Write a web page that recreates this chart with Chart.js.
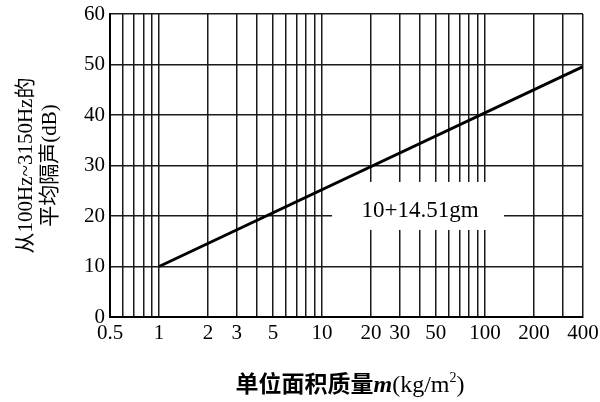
<!DOCTYPE html>
<html><head><meta charset="utf-8">
<script src="https://cdn.jsdelivr.net/npm/chart.js@4"></script>
<style>html,body{margin:0;padding:0;background:#fff}#wrap{width:600px;height:402px}</style>
</head><body><div id="wrap"><canvas id="c" width="600" height="402"></canvas></div>
<script>
// Data
const lineMass = [1, 400];           // kg/m2
const lineLoss = [10, 49.6];         // dB
const xLabelTicks = [0.5, 1, 2, 3, 5, 10, 20, 30, 50, 100, 200, 400];
const xGridTicks = [0.5, 0.6, 0.7, 0.8, 0.9, 1, 2, 3, 4, 5, 6, 7, 8, 9, 10, 20, 30, 40, 50, 60, 70, 80, 90, 100, 200, 300, 400];
const yLabelTicks = [0, 10, 20, 30, 40, 50, 60];
const formulaText = '10+14.51gm';
const yTitleLines = ['从100Hz~3150Hz的', '平均隔声(dB)'];
const xTitleCn = '单位面积质量';
const xTitleVar = 'm';
const xTitleUnit = '(kg/m';

const serif = '"Liberation Serif","Noto Sans CJK SC",serif';

const deco = {
  id: 'deco',
  beforeDatasetsDraw(chart) {
    const {ctx, scales: {x, y}} = chart;
    const cx = x.getPixelForValue(40), cy = y.getPixelForValue(21);
    ctx.save();
    ctx.fillStyle = '#fff';
    ctx.fillRect(cx - 88, cy - 29, 172, 48);
    ctx.fillStyle = '#000';
    ctx.font = '23px ' + serif;
    ctx.textAlign = 'center';
    ctx.textBaseline = 'middle';
    ctx.fillText(formulaText, cx, cy);
    ctx.restore();
  },
  afterDraw(chart) {
    const {ctx, chartArea} = chart;
    ctx.save();
    ctx.fillStyle = '#000';
    const midY = (chartArea.top + chartArea.bottom) / 2;
    [[26, yTitleLines[0]], [50, yTitleLines[1]]].forEach(([px, t]) => {
      ctx.save();
      ctx.translate(px, midY);
      ctx.rotate(-Math.PI / 2);
      ctx.font = '21px ' + serif;
      ctx.textAlign = 'center';
      ctx.textBaseline = 'middle';
      ctx.fillText(t, 0, 0);
      ctx.restore();
    });
    const fCn = 'bold 23px ' + serif, fVar = 'italic bold 24px ' + serif, fUnit = '24px ' + serif, fSup = '14px ' + serif;
    ctx.font = fCn; const w1 = ctx.measureText(xTitleCn).width;
    ctx.font = fVar; const w2 = ctx.measureText(xTitleVar).width;
    ctx.font = fUnit; const w3 = ctx.measureText(xTitleUnit).width;
    ctx.font = fSup; const w4 = ctx.measureText('2').width;
    ctx.font = fUnit; const w5 = ctx.measureText(')').width;
    let sx = 350 - (w1 + w2 + w3 + w4 + w5) / 2;
    const by = 392;
    ctx.textBaseline = 'alphabetic';
    ctx.textAlign = 'left';
    ctx.font = fCn; ctx.fillText(xTitleCn, sx, by); sx += w1;
    ctx.font = fVar; ctx.fillText(xTitleVar, sx, by); sx += w2;
    ctx.font = fUnit; ctx.fillText(xTitleUnit, sx, by); sx += w3;
    ctx.font = fSup; ctx.fillText('2', sx, by - 10); sx += w4;
    ctx.font = fUnit; ctx.fillText(')', sx, by);
    ctx.restore();
  }
};

new Chart(document.getElementById('c'), {
  type: 'line',
  data: {
    datasets: [{
      data: lineMass.map((m, i) => ({x: m, y: lineLoss[i]})),
      borderColor: '#000',
      borderWidth: 3,
      pointRadius: 0,
      tension: 0
    }]
  },
  options: {
    responsive: false,
    animation: false,
    layout: {padding: {top: 14, right: 17, left: 0, bottom: 0}},
    plugins: {legend: {display: false}, tooltip: {enabled: false}},
    scales: {
      x: {
        type: 'logarithmic',
        min: 0.5, max: 400,
        afterFit(s) { s.height = 85; s.paddingRight = 0; s.paddingLeft = 0; },
        afterBuildTicks(s) { s.ticks = xGridTicks.map(v => ({value: v})); },
        grid: {color: '#1a1a1a', lineWidth: 1.5, drawTicks: false, tickLength: 0},
        border: {color: '#000', width: 2},
        ticks: {
          autoSkip: false, maxRotation: 0, minRotation: 0, padding: 4,
          color: '#000', font: {family: serif, size: 21},
          callback(v) { return xLabelTicks.includes(v) ? String(v) : ''; }
        }
      },
      y: {
        type: 'linear',
        min: 0, max: 60,
        afterFit(s) { s.width = 110; s.paddingTop = 0; s.paddingBottom = 0; },
        grid: {color: '#1a1a1a', lineWidth: 1.5, drawTicks: false, tickLength: 0},
        border: {color: '#000', width: 2},
        ticks: {
          stepSize: 5, padding: 5, color: '#000', font: {family: serif, size: 21},
          callback(v) { return yLabelTicks.includes(v) ? String(v) : ''; }
        }
      }
    }
  },
  plugins: [deco]
});
</script>
</body></html>
